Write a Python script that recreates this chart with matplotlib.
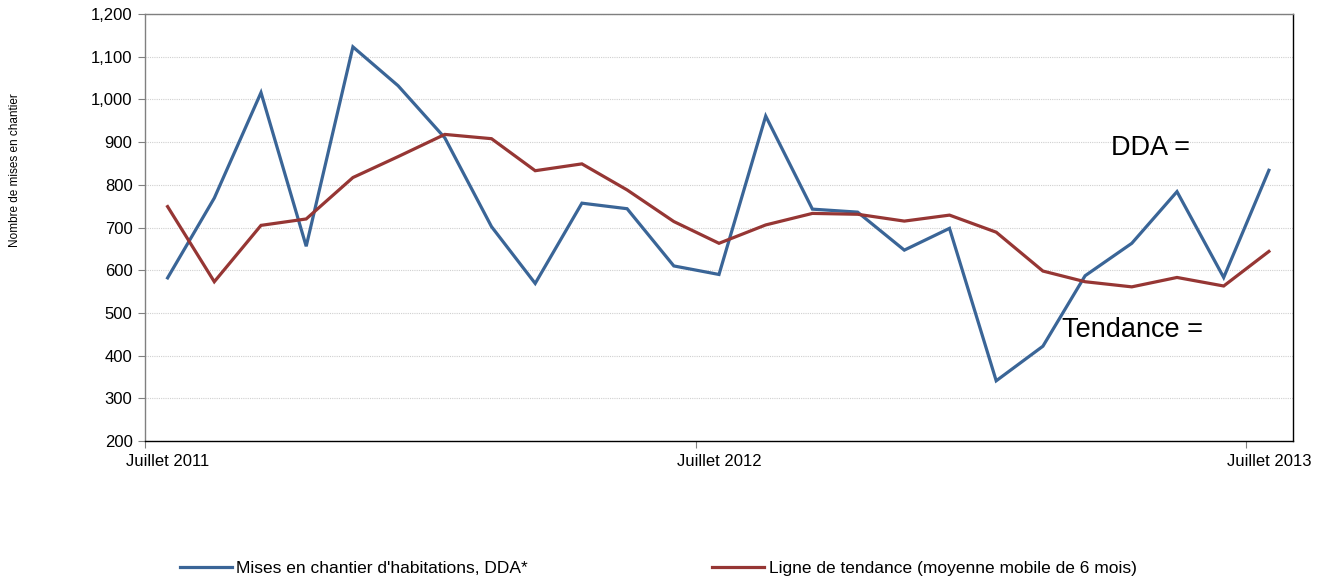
import numpy as np
import pandas as pd
import matplotlib
matplotlib.use("Agg")
import matplotlib.pyplot as plt
from matplotlib.ticker import FuncFormatter, MultipleLocator

plt.rcParams['font.family'] = ['Liberation Sans', 'DejaVu Sans']

# monthly data, Jul 2011 .. Jul 2013 (points drawn mid-month)
months = pd.date_range("2011-07-01", periods=25, freq="MS") + pd.Timedelta(days=15)
dda = [582, 769, 1016, 656, 1123, 1032, 910, 702, 569, 757, 744, 610,
       590, 961, 743, 736, 647, 698, 341, 422, 587, 663, 784, 583, 834]
tendance = [749, 573, 705, 720, 817, 866, 918, 908, 833, 849, 788, 714,
            663, 706, 733, 731, 715, 729, 689, 598, 573, 561, 583, 563, 644]

tick_dates = pd.to_datetime(["2011-07-01", "2012-07-01", "2013-07-01"])
tick_labels = ["Juillet 2011", "Juillet 2012", "Juillet 2013"]

blue = "#3a6597"
red = "#963634"

fig = plt.figure(figsize=(13.28, 5.87), dpi=100)
ax = fig.add_axes([145/1328, 1-441/587, (1293-145)/1328, (441-14)/587])

l1, = ax.plot(months, dda, color=blue, lw=2.3, solid_joinstyle='miter')
l2, = ax.plot(months, tendance, color=red, lw=2.3, solid_joinstyle='miter')

ax.set_ylim(200, 1200)
ax.set_xlim(pd.Timestamp("2011-07-01"), pd.Timestamp("2013-08-01"))
ax.yaxis.set_major_locator(MultipleLocator(100))
ax.yaxis.set_major_formatter(FuncFormatter(lambda v, p: f"{v:,.0f}"))
ax.grid(axis='y', color='#d0d0d0', linestyle=(0, (1, 1)), lw=0.8)
ax.set_axisbelow(True)

# ticks at 1 July, labels centred on the month
ax.set_xticks(tick_dates)
ax.set_xticklabels([])
ax.set_xticks(tick_dates + pd.Timedelta(days=15), minor=True)
ax.set_xticklabels(tick_labels, minor=True)
ax.tick_params(axis='x', which='major', length=5, color='#808080', direction='out')
ax.tick_params(axis='x', which='minor', length=0, pad=9, labelsize=12)
ax.tick_params(axis='y', length=5, color='#808080', direction='out', labelsize=12, pad=4)

ax.spines['left'].set_color('#808080')
ax.spines['top'].set_color('#7f7f7f')
ax.spines['bottom'].set_color('black')
ax.spines['right'].set_color('black')
for s in ax.spines.values():
    s.set_linewidth(1.0)

fig.text(1111/1328, 1-155/587, "DDA =", fontsize=19.5, va='baseline', ha='left')
fig.text(1062/1328, 1-337/587, "Tendance =", fontsize=19.5, va='baseline', ha='left')

fig.text(15/1328, 1-170/587, "Nombre de mises en chantier", rotation=90,
         fontsize=8.5, ha='center', va='center')

leg = fig.legend([l1, l2], ["Mises en chantier d'habitations, DDA*",
                            "Ligne de tendance (moyenne mobile de 6 mois)"],
                 loc='center left', bbox_to_anchor=(180/1328, 1-568/587),
                 ncol=2, frameon=False, fontsize=12.5, handlelength=3.0,
                 handletextpad=0.25, columnspacing=10.6, borderpad=0,
                 borderaxespad=0)

fig.savefig("out.png", dpi=100)
